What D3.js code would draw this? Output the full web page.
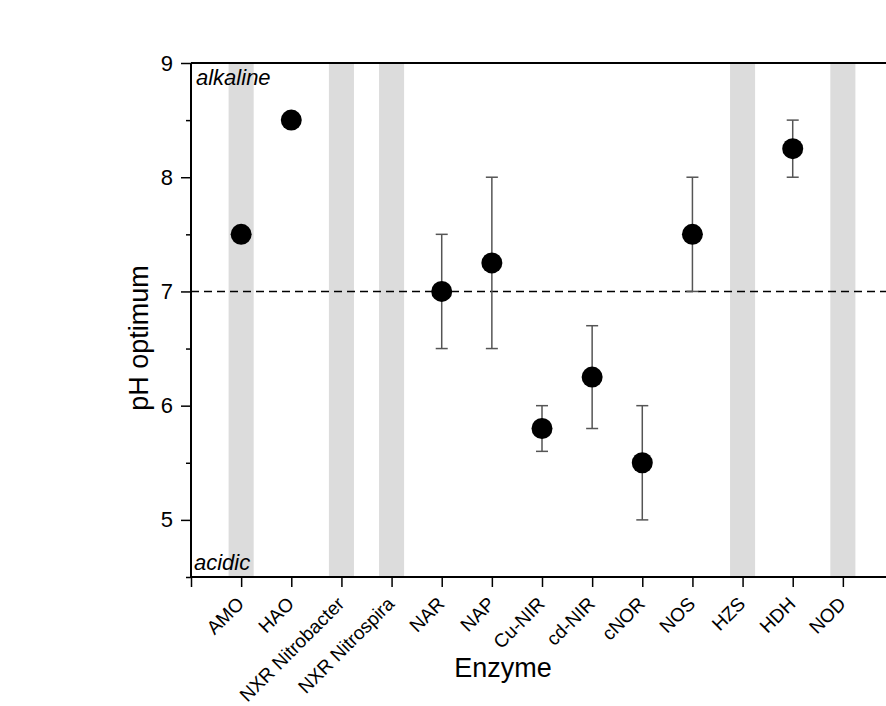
<!DOCTYPE html>
<html>
<head>
<meta charset="utf-8">
<script src="https://cdn.jsdelivr.net/npm/d3@7"></script>
<style>
  body { margin: 0; background: #fff; }
  svg { display: block; font-family: "Liberation Sans", Arial, sans-serif; }
</style>
</head>
<body>
<svg id="chart" width="886" height="706"></svg>
<script>
// ---- data ----
const categories = ["AMO", "HAO", "NXR Nitrobacter", "NXR Nitrospira", "NAR", "NAP",
  "Cu-NIR", "cd-NIR", "cNOR", "NOS", "HZS", "HDH", "NOD"];
const phOptimum = [7.5, 8.5, null, null, 7.0, 7.25, 5.8, 6.25, 5.5, 7.5, null, 8.25, null];
const errLow    = [null, null, null, null, 6.5, 6.5, 5.6, 5.8, 5.0, 7.0, null, 8.0, null];
const errHigh   = [null, null, null, null, 7.5, 8.0, 6.0, 6.7, 6.0, 8.0, null, 8.5, null];
const shaded = ["AMO", "NXR Nitrobacter", "NXR Nitrospira", "HZS", "NOD"];
const yTicks = [5, 6, 7, 8, 9];
const yMinorTicks = [4.5, 5.5, 6.5, 7.5, 8.5];
const neutralPH = 7;

// ---- scales ----
const svg = d3.select("#chart");
const x = d3.scaleLinear().domain([0, 14]).range([191, 893]);
const y = d3.scaleLinear().domain([4.5, 9]).range([577, 63]);
const idx = c => categories.indexOf(c) + 1;

// shaded bands
svg.append("g").selectAll("rect").data(shaded).join("rect")
  .attr("x", d => x(idx(d) - 0.25))
  .attr("width", d => x(idx(d) + 0.25) - x(idx(d) - 0.25))
  .attr("y", y(9))
  .attr("height", y(4.5) - y(9))
  .attr("fill", "#dcdcdc");

// neutral dashed line
svg.append("line")
  .attr("x1", x(0)).attr("x2", 886)
  .attr("y1", y(neutralPH)).attr("y2", y(neutralPH))
  .attr("stroke", "#000").attr("stroke-width", 1.6)
  .attr("stroke-dasharray", "8,5");

// points data
const pts = categories.map((c, i) => ({c, i: i + 1, v: phOptimum[i], lo: errLow[i], hi: errHigh[i]}))
  .filter(d => d.v !== null);
const errs = pts.filter(d => d.lo !== null);

const eg = svg.append("g").attr("stroke", "#555").attr("stroke-width", 1.5);
eg.selectAll("line.v").data(errs).join("line").attr("class", "v")
  .attr("x1", d => x(d.i)).attr("x2", d => x(d.i))
  .attr("y1", d => y(d.lo)).attr("y2", d => y(d.hi));
eg.selectAll("line.lo").data(errs).join("line").attr("class", "lo")
  .attr("x1", d => x(d.i) - 6).attr("x2", d => x(d.i) + 6)
  .attr("y1", d => y(d.lo)).attr("y2", d => y(d.lo));
eg.selectAll("line.hi").data(errs).join("line").attr("class", "hi")
  .attr("x1", d => x(d.i) - 6).attr("x2", d => x(d.i) + 6)
  .attr("y1", d => y(d.hi)).attr("y2", d => y(d.hi));

svg.append("g").selectAll("circle").data(pts).join("circle")
  .attr("cx", d => x(d.i)).attr("cy", d => y(d.v)).attr("r", 10.5)
  .attr("fill", "#000");

// ---- axes ----
// top border
svg.append("line").attr("x1", x(0)).attr("x2", 893).attr("y1", y(9)).attr("y2", y(9))
  .attr("stroke", "#000").attr("stroke-width", 2);

// left axis minor ticks
svg.append("g").attr("transform", `translate(${x(0)},0)`)
  .call(d3.axisLeft(y).tickValues(yMinorTicks).tickSize(5).tickFormat(""))
  .call(g => g.select(".domain").remove())
  .selectAll("line").attr("stroke-width", 1.5);

const ya = svg.append("g").attr("transform", `translate(${x(0)},0)`)
  .call(d3.axisLeft(y).tickValues(yTicks).tickSize(10).tickPadding(8).tickFormat(d3.format("d")));
ya.select(".domain").attr("stroke-width", 2).attr("d", `M0,${y(4.5)}V${y(9)}`);
ya.selectAll(".tick line").attr("stroke-width", 1.5);
ya.selectAll(".tick text").attr("font-size", 22).attr("fill", "#000")
  .attr("font-family", "Liberation Sans, Arial, sans-serif");

// bottom axis
const xa = svg.append("g").attr("transform", `translate(0,${y(4.5)})`)
  .call(d3.axisBottom(x).tickValues(d3.range(0, 14)).tickSize(10).tickFormat(""));
xa.select(".domain").attr("stroke-width", 2).attr("d", `M${x(0)},0H893`);
xa.selectAll(".tick line").attr("stroke-width", 1.5);

svg.append("g").selectAll("text").data(categories).join("text")
  .attr("transform", (d, i) => `translate(${x(i + 1) + 4},${y(4.5) + 28}) rotate(-45)`)
  .attr("text-anchor", "end")
  .attr("font-size", 19)
  .attr("fill", "#000")
  .text(d => d);

// annotations
svg.append("text").attr("x", 196).attr("y", 85).attr("font-size", 22)
  .attr("font-style", "italic").text("alkaline");
svg.append("text").attr("x", 194).attr("y", 570).attr("font-size", 22)
  .attr("font-style", "italic").text("acidic");

// axis titles
svg.append("text").attr("transform", "translate(148,338) rotate(-90)")
  .attr("text-anchor", "middle").attr("font-size", 27).text("pH optimum");
svg.append("text").attr("x", 503).attr("y", 677)
  .attr("text-anchor", "middle").attr("font-size", 27).text("Enzyme");
</script>
</body>
</html>
